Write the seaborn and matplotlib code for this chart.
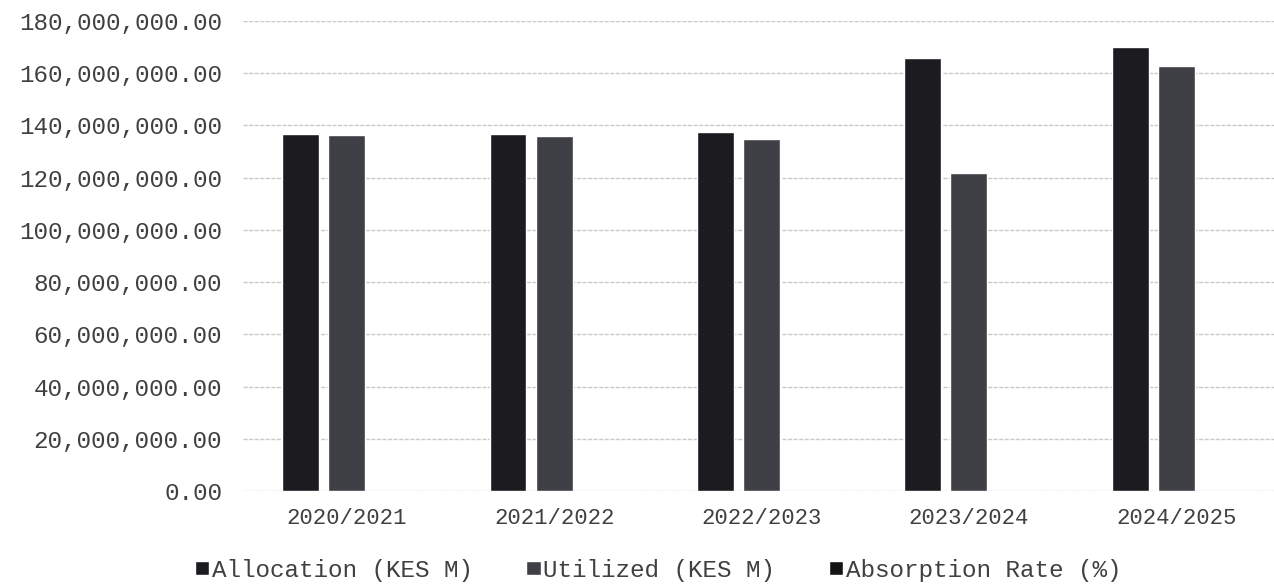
import matplotlib
matplotlib.use("Agg")
import matplotlib.pyplot as plt
import seaborn as sns
import pandas as pd
from matplotlib.ticker import FuncFormatter, MultipleLocator

years = ["2020/2021", "2021/2022", "2022/2023", "2023/2024", "2024/2025"]
allocation = [136.7e6, 136.7e6, 137.6e6, 165.9e6, 169.9e6]
utilized = [136.3e6, 136.0e6, 134.7e6, 121.7e6, 162.8e6]
absorption = [99.7, 99.5, 97.9, 73.4, 95.8]
series = ["Allocation (KES M)", "Utilized (KES M)", "Absorption Rate (%)"]

rows = []
for name, vals in zip(series, [allocation, utilized, absorption]):
    for y, v in zip(years, vals):
        rows.append({"Year": y, "Value": v, "Series": name})
df = pd.DataFrame(rows)

sns.set_theme(style="white")
plt.rcParams["font.family"] = ["Liberation Mono", "DejaVu Sans Mono"]
text_color = "#404040"

fig = plt.figure(figsize=(12.74, 5.85), dpi=100)
ax = fig.add_axes([243 / 1274, 1 - 491 / 585, (1280 - 243) / 1274, (491 - 21) / 585])

palette = ["#1b1b20", "#3f3f46", "#141414"]
sns.barplot(data=df, x="Year", y="Value", hue="Series", palette=palette,
            width=0.667, gap=0.2, ax=ax, saturation=1, errorbar=None, zorder=3)

ax.set_ylim(0, 180e6)
ax.yaxis.set_major_locator(MultipleLocator(20e6))
ax.yaxis.set_major_formatter(FuncFormatter(lambda v, p: f"{v:,.2f}"))
ax.grid(axis="y", color="#c9c9c9", linewidth=1.0, linestyle=(0, (3, 1)), zorder=0)
ax.grid(axis="x", visible=False)
for s in ax.spines.values():
    s.set_visible(False)
ax.set_xlabel("")
ax.set_ylabel("")
ax.tick_params(axis="y", labelsize=17.5, colors=text_color, pad=15, length=0)
ax.tick_params(axis="x", labelsize=16, colors=text_color, pad=12, length=0)

handles, labels = ax.get_legend_handles_labels()
ax.get_legend().remove()
fig.legend(handles, labels, loc="center", bbox_to_anchor=(658 / 1274, 1 - 570 / 585),
           ncol=3, frameon=False, fontsize=17.5, labelcolor=text_color,
           handlelength=0.6, handleheight=0.5, handletextpad=0.1,
           columnspacing=2.2, borderpad=0)

fig.savefig("out.png", dpi=100)
